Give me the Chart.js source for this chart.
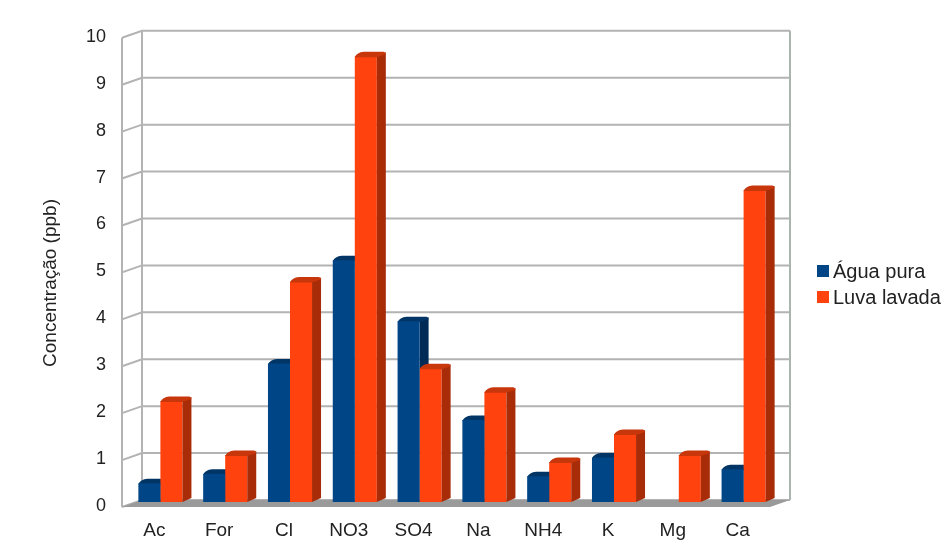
<!DOCTYPE html>
<html>
<head>
<meta charset="utf-8">
<script src="https://cdn.jsdelivr.net/npm/chart.js@4.4.1/dist/chart.umd.min.js"></script>
<style>
  html, body { margin: 0; padding: 0; background: #ffffff; }
  #wrap { width: 945px; height: 545px; }
</style>
</head>
<body>
<div id="wrap"><canvas id="c" width="945" height="545"></canvas></div>
<script>
// Ion concentrations (ppb) per species
const categories = ['Ac', 'For', 'Cl', 'NO3', 'SO4', 'Na', 'NH4', 'K', 'Mg', 'Ca'];
const aguaPura   = [0.4, 0.6, 2.95, 5.15, 3.85, 1.75, 0.55, 0.95, 0, 0.7];
const luvaLavada = [2.15, 1.0, 4.7, 9.5, 2.85, 2.35, 0.85, 1.45, 1.0, 6.65];
const yTicks     = [0, 1, 2, 3, 4, 5, 6, 7, 8, 9, 10];
const seriesNames = ['Água pura', 'Luva lavada'];
const yTitle = 'Concentração (ppb)';

const FONT = "'Liberation Sans', Arial, sans-serif";
const COLORS = {
  front: ['#004586', '#ff420e'],
  frontLight: ['#0a5198', '#ff5320'],
  side:  ['#002b57', '#a82c08'],
  top:   ['#003566', '#c8360b']
};
const GRID = '#b3b3b3';
// depth of the wall/floor box and of each bar
const WALL_DX = 20, WALL_DY = 7, WALL_BACK_SHIFT = 2;
const BAR_DX = 9, BAR_DY = 4;

// slight horizontal shading across each bar front
function frontFill(idx) {
  return (c) => {
    const el = c.element;
    const chart = c.chart;
    if (!el || !chart.chartArea || el.width === undefined) return COLORS.front[idx];
    const x0 = el.x - el.width / 2, x1 = el.x + el.width / 2;
    if (!isFinite(x0) || !isFinite(x1) || x1 - x0 < 1) return COLORS.front[idx];
    const g = chart.ctx.createLinearGradient(x0, 0, x1, 0);
    g.addColorStop(0, COLORS.front[idx]);
    g.addColorStop(0.35, COLORS.frontLight[idx]);
    g.addColorStop(1, COLORS.front[idx]);
    return g;
  };
}

function barFaces(ctx, el, idx) {
  const x0 = el.x - el.width / 2, x1 = el.x + el.width / 2;
  const top = el.y, base = el.base;
  if (base - top < 0.5) return;
  // side face
  ctx.fillStyle = COLORS.side[idx];
  ctx.beginPath();
  ctx.moveTo(x1, top);
  ctx.lineTo(x1 + BAR_DX, top - BAR_DY);
  ctx.lineTo(x1 + BAR_DX, base - BAR_DY);
  ctx.lineTo(x1, base);
  ctx.closePath();
  ctx.fill();
  // top face, softened at the front-left corner
  ctx.fillStyle = COLORS.top[idx];
  ctx.beginPath();
  ctx.moveTo(x0, top + 1);
  ctx.quadraticCurveTo(x0 + 2, top - BAR_DY, x0 + BAR_DX, top - BAR_DY - 0.5);
  ctx.lineTo(x1 + BAR_DX - 2, top - BAR_DY - 0.5);
  ctx.quadraticCurveTo(x1 + BAR_DX, top - BAR_DY, x1 + BAR_DX, top - BAR_DY + 2);
  ctx.lineTo(x1, top + 1);
  ctx.closePath();
  ctx.fill();
}

const box3d = {
  id: 'box3d',
  beforeDatasetsDraw(chart) {
    const ctx = chart.ctx;
    const y = chart.scales.y;
    const area = chart.chartArea;
    const frontL = area.left - 6, frontR = area.right - 6;
    const backL = frontL + WALL_DX, backR = frontR + WALL_DX;
    const yBack = v => y.getPixelForValue(v) - WALL_BACK_SHIFT;
    ctx.save();
    ctx.strokeStyle = GRID;
    ctx.lineWidth = 2;
    // back wall grid and left wall ticks
    yTicks.forEach(v => {
      const yb = yBack(v);
      ctx.beginPath();
      ctx.moveTo(frontL, yb + WALL_DY);
      ctx.lineTo(backL, yb);
      ctx.lineTo(backR, yb);
      ctx.stroke();
    });
    const yTop = yBack(10), yBot = yBack(0);
    ctx.beginPath();
    ctx.moveTo(backL, yTop); ctx.lineTo(backL, yBot);
    ctx.moveTo(frontL, yTop + WALL_DY); ctx.lineTo(frontL, yBot + WALL_DY);
    ctx.stroke();
    ctx.strokeStyle = '#a9b5ad';
    ctx.beginPath();
    ctx.moveTo(backR, yTop); ctx.lineTo(backR, yBot);
    ctx.stroke();
    // floor
    ctx.fillStyle = '#9a9a9a';
    ctx.beginPath();
    ctx.moveTo(frontL, yBot + WALL_DY);
    ctx.lineTo(frontR, yBot + WALL_DY);
    ctx.lineTo(backR, yBot);
    ctx.lineTo(backL, yBot);
    ctx.closePath();
    ctx.fill();
    // depth faces of the first series (hidden behind the second where it is taller)
    chart.getDatasetMeta(0).data.forEach(el => barFaces(ctx, el, 0));
    ctx.restore();
  },
  afterDatasetsDraw(chart) {
    const ctx = chart.ctx;
    ctx.save();
    chart.getDatasetMeta(1).data.forEach(el => barFaces(ctx, el, 1));
    ctx.restore();
  },
  afterDraw(chart) {
    const ctx = chart.ctx;
    ctx.save();
    // axis title
    ctx.fillStyle = '#222';
    ctx.font = '19px ' + FONT;
    ctx.textAlign = 'center';
    ctx.textBaseline = 'middle';
    ctx.translate(51, 283);
    ctx.rotate(-Math.PI / 2);
    ctx.fillText(yTitle, 0, 0);
    ctx.restore();
    // legend
    ctx.save();
    ctx.font = '20px ' + FONT;
    ctx.textBaseline = 'middle';
    ctx.textAlign = 'left';
    seriesNames.forEach((name, i) => {
      const cy = 271 + i * 26;
      ctx.fillStyle = COLORS.front[i];
      ctx.fillRect(817, cy - 6, 12, 12);
      ctx.fillStyle = '#222';
      ctx.fillText(name, 833, cy + 1);
    });
    ctx.restore();
  }
};

new Chart(document.getElementById('c'), {
  type: 'bar',
  data: {
    labels: categories,
    datasets: [
      { label: seriesNames[0], data: aguaPura, backgroundColor: frontFill(0), borderWidth: 0 },
      { label: seriesNames[1], data: luvaLavada, backgroundColor: frontFill(1), borderWidth: 0 }
    ]
  },
  options: {
    responsive: false,
    animation: false,
    layout: { padding: { left: 0, right: 169, top: 29, bottom: 0 } },
    plugins: { legend: { display: false }, tooltip: { enabled: false } },
    datasets: { bar: { categoryPercentage: 0.68, barPercentage: 1.0 } },
    scales: {
      x: {
        grid: { display: false, drawTicks: false },
        border: { display: false },
        ticks: { color: '#222', font: { family: FONT, size: 19 }, padding: 17, labelOffset: -6, maxRotation: 0 },
        afterFit: s => { s.height = 43; }
      },
      y: {
        min: 0, max: 10,
        grid: { display: false, drawTicks: false },
        border: { display: false },
        afterBuildTicks: s => { s.ticks = yTicks.map(v => ({ value: v })); },
        ticks: { color: '#222', font: { family: FONT, size: 18 }, padding: 22, labelOffset: 4 },
        afterFit: s => { s.width = 128; }
      }
    }
  },
  plugins: [box3d]
});
</script>
</body>
</html>
